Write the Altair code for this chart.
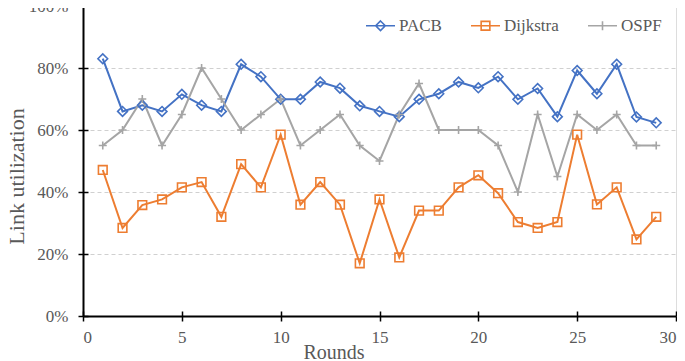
import altair as alt
import pandas as pd

rounds = list(range(1, 30))
series_names = ["PACB", "Dijkstra", "OSPF"]
colors = ["#4472C4", "#ED7D31", "#A5A5A5"]
pacb = [83, 66, 68, 66, 71.5, 68, 66, 81.2, 77.2, 69.9, 69.9, 75.5, 73.5, 67.8, 66,
        64.3, 69.9, 71.7, 75.5, 73.6, 77.2, 69.9, 73.4, 64.3, 79.2, 71.7, 81.2, 64.2, 62.3]
dijkstra = [47.1, 28.4, 35.8, 37.6, 41.5, 43.2, 32, 49, 41.5, 58.5, 35.9, 43.2, 35.9, 17, 37.6,
            18.9, 34, 34, 41.5, 45.4, 39.6, 30.3, 28.4, 30.3, 58.5, 36, 41.5, 24.7, 32]
ospf = [55, 60, 70, 55, 65, 80, 70, 60, 65, 70, 55, 60, 65, 55, 50,
        65, 75, 60, 60, 60, 55, 40, 65, 45, 65, 60, 65, 55, 55]
x_ticks = [0, 5, 10, 15, 20, 25, 30]
y_ticks = [0, 20, 40, 60, 80, 100]

rows = []
for name, vals in zip(series_names, [pacb, dijkstra, ospf]):
    for r, v in zip(rounds, vals):
        rows.append({"round": r, "series": name, "value": v})
df = pd.DataFrame(rows)

FONT = "Liberation Serif"
GRAY = "#595959"
PLUS = "M-1,0H1M0,-1V1"
leg_paths = [
    "M-1,0H1M0,-0.33L0.33,0L0,0.33L-0.33,0Z",
    "M-1,0H1M-0.3,-0.3H0.3V0.3H-0.3Z",
    "M-1,0H1M0,-0.31V0.31",
]

xscale = alt.Scale(domain=[0, 30], nice=False, zero=False)
yscale = alt.Scale(domain=[0, 100], nice=False)
cscale = alt.Scale(domain=series_names, range=colors)

x_main = alt.X("round:Q", scale=xscale, axis=alt.Axis(
    values=x_ticks, title="Rounds", grid=False, domainColor="black", domainWidth=2,
    tickColor="black", tickWidth=1.5, tickSize=5, labelFont=FONT, labelFontSize=17,
    labelColor=GRAY, labelPadding=8, titleFont=FONT, titleFontSize=20, titleColor=GRAY,
    titleFontWeight="normal", titleX=220, titleY=42, titleAlign="left",
    titleBaseline="alphabetic", orient="bottom"))
y_main = alt.Y("value:Q", scale=yscale, axis=alt.Axis(
    values=y_ticks, title="Link utilization", grid=True, gridColor="#d0d0d0",
    gridDash=[4, 3], gridWidth=1, domainColor="black", domainWidth=2,
    tickColor="black", tickWidth=1.5, tickSize=5, labelFont=FONT, labelFontSize=17,
    labelColor=GRAY, labelPadding=10, labelExpr="datum.value + '%'",
    titleFont=FONT, titleFontSize=22, titleColor=GRAY, titleFontWeight="normal",
    titleAngle=270, titleX=-60, titleY=170, titleAlign="center",
    titleBaseline="alphabetic", orient="left"))

lines = alt.Chart(df).mark_line(strokeWidth=2).encode(
    x=x_main, y=y_main,
    color=alt.Color("series:N", scale=cscale, legend=None),
    order="round:Q",
)

shapes = ["diamond", "square", PLUS]
sizes = [95, 75, 64]
point_layers = []
for name, col, shp, sz in zip(series_names, colors, shapes, sizes):
    point_layers.append(
        alt.Chart(df).transform_filter(alt.datum.series == name).mark_point(
            shape=shp, size=sz, color=col, filled=False, strokeWidth=1.6, opacity=1
        ).encode(
            x=alt.X("round:Q", scale=xscale, axis=None),
            y=alt.Y("value:Q", scale=yscale, axis=None),
        )
    )

leg = alt.Legend(orient="none", legendX=282, legendY=4, direction="horizontal",
                 title=None, labelFont=FONT, labelFontSize=17, labelColor=GRAY,
                 symbolSize=841, symbolStrokeWidth=1.6, symbolOpacity=1,
                 labelOffset=3, columnPadding=25, padding=0)
inner_axis_x = alt.Axis(values=x_ticks, orient="bottom", offset=-5, labels=False,
                        domain=False, grid=False, title=None, tickSize=5,
                        tickColor="black", tickWidth=1.5)
inner_axis_y = alt.Axis(values=y_ticks, orient="left", offset=-5, labels=False,
                        domain=False, grid=False, title=None, tickSize=5,
                        tickColor="black", tickWidth=1.5)
legend_layer = alt.Chart(df).mark_point(filled=False, opacity=0).encode(
    x=alt.X("round:Q", scale=xscale, axis=inner_axis_x),
    y=alt.Y("value:Q", scale=yscale, axis=inner_axis_y),
    color=alt.Color("series:N", scale=cscale, legend=leg),
    shape=alt.Shape("series:N", scale=alt.Scale(domain=series_names, range=leg_paths), legend=leg),
)

chart = alt.layer(lines, *point_layers, legend_layer).resolve_scale(
    color="independent", shape="independent"
).resolve_axis(x="independent", y="independent").properties(
    width=593, height=310,
    autosize=alt.AutoSizeParams(type="none"),
    padding={"left": 75, "top": -2, "right": 1, "bottom": 45},
).configure_view(stroke="black", strokeWidth=1.2).configure_axis(
    labelFont=FONT, titleFont=FONT
).configure_legend(labelFont=FONT).configure(background="white", font=FONT)

chart.save("out.html", embed_options={"renderer": "svg", "actions": False})
